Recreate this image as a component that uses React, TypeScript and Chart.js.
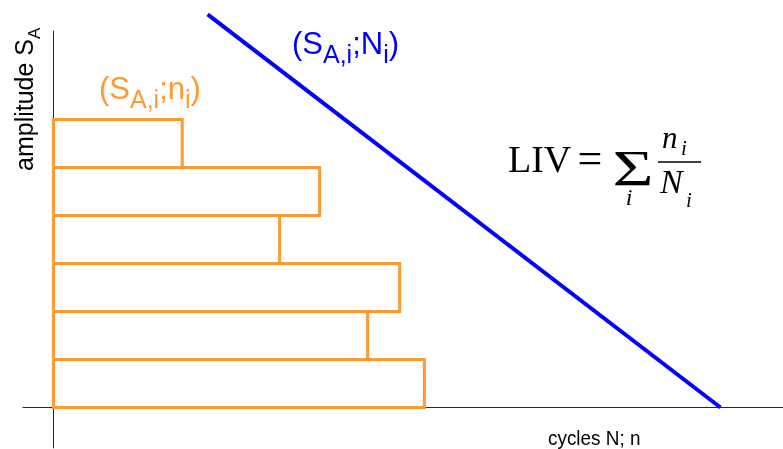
import { useEffect, useRef } from "react";
import { Chart, registerables } from "chart.js";

Chart.register(...registerables);

// ---- data ----
// block boundaries of the load spectrum (amplitude S_A), bottom -> top
const amplitudeLevels = [0, 1, 2, 3, 4, 5, 6];
// applied cycles n_i of each block, bottom -> top
const appliedCycles = [55.6, 47.1, 51.9, 33.9, 39.9, 19.3];
// S-N (Woehler) line end points: cycles N and amplitude S_A
const snCycles = [23.1, 100];
const snAmplitude = [8.19, 0];
// axis line extents
const xAxisExtent = [-4.65, 109.5];
const yAxisExtent = [-0.85, 7.85];
// view window
const X_RANGE = [-8.02, 109.37];
const Y_RANGE = [-0.865, 8.49];

const ORANGE = "#FF9933";
const BLUE = "#0000FF";
const AXIS = "#222222";
const SANS = '"Liberation Sans", Arial, sans-serif';
const SERIF = '"Liberation Serif", "Times New Roman", serif';

type Run = { t: string; sub?: boolean };

function drawRuns(
  ctx: CanvasRenderingContext2D,
  runs: Run[],
  x: number,
  y: number,
  size: number,
  subSize: number,
  subShift: number,
  family: string,
  style = ""
) {
  let cx = x;
  for (const r of runs) {
    const s = r.sub ? subSize : size;
    ctx.font = `${style} ${s}px ${family}`.trim();
    ctx.fillText(r.t, cx, r.sub ? y + subShift : y);
    cx += ctx.measureText(r.t).width;
  }
}

const labelsPlugin = {
  id: "labels",
  afterDatasetsDraw(chart: any) {
    const ctx: CanvasRenderingContext2D = chart.ctx;
    ctx.save();
    ctx.textBaseline = "alphabetic";
    ctx.textAlign = "left";

    // y-axis title (rotated)
    ctx.save();
    ctx.translate(33, 171);
    ctx.rotate(-Math.PI / 2);
    ctx.fillStyle = "#000";
    drawRuns(ctx, [{ t: "amplitude S" }, { t: "A", sub: true }], 0, 0, 25, 17, 7, SANS);
    ctx.restore();

    // x-axis title (slightly condensed)
    ctx.save();
    ctx.translate(548, 445);
    ctx.scale(0.9, 1);
    ctx.fillStyle = "#000";
    ctx.font = `21px ${SANS}`;
    ctx.fillText("cycles N; n", 0, 0);
    ctx.restore();

    // S-N line label
    ctx.fillStyle = BLUE;
    drawRuns(
      ctx,
      [{ t: "(S" }, { t: "A,i", sub: true }, { t: ";N" }, { t: "i", sub: true }, { t: ")" }],
      292,
      54,
      31,
      25,
      9,
      SANS
    );

    // spectrum label
    ctx.fillStyle = ORANGE;
    drawRuns(
      ctx,
      [{ t: "(S" }, { t: "A,i", sub: true }, { t: ";n" }, { t: "i", sub: true }, { t: ")" }],
      99,
      99,
      31,
      25,
      9,
      SANS
    );

    // formula LIV = sum_i n_i / N_i
    ctx.fillStyle = "#000";
    ctx.font = `38px ${SERIF}`;
    ctx.fillText("LIV", 508, 172);
    ctx.textAlign = "center";
    ctx.font = `44px ${SERIF}`;
    ctx.fillText("=", 590, 173);
    // summation sign
    ctx.save();
    ctx.translate(633, 185);
    ctx.scale(1.38, 1);
    ctx.font = `51px ${SERIF}`;
    ctx.fillText("\u03A3", 0, 0);
    ctx.restore();
    ctx.font = `italic 24px ${SERIF}`;
    ctx.fillText("i", 629, 205);
    ctx.textAlign = "left";
    ctx.font = `italic 31px ${SERIF}`;
    ctx.fillText("n", 662, 148);
    ctx.font = `italic 21px ${SERIF}`;
    ctx.fillText("i", 681, 155);
    ctx.font = `italic 34px ${SERIF}`;
    ctx.fillText("N", 660, 193);
    ctx.font = `italic 21px ${SERIF}`;
    ctx.fillText("i", 686, 207);
    ctx.strokeStyle = "#000";
    ctx.lineWidth = 1.5;
    ctx.beginPath();
    ctx.moveTo(658, 162);
    ctx.lineTo(701, 162);
    ctx.stroke();

    ctx.restore();
  },
};

export default function App() {
  const ref = useRef<HTMLCanvasElement | null>(null);

  useEffect(() => {
    if (!ref.current) return;

    const blockSets = appliedCycles.map((n, i) => {
      const lo = amplitudeLevels[i];
      const hi = amplitudeLevels[i + 1];
      return {
        type: "line" as const,
        data: [
          { x: 0, y: lo },
          { x: n, y: lo },
          { x: n, y: hi },
          { x: 0, y: hi },
          { x: 0, y: lo },
        ],
        borderColor: ORANGE,
        borderWidth: 3,
        borderJoinStyle: "miter" as const,
        borderCapStyle: "square" as const,
        pointRadius: 0,
        fill: false,
        tension: 0,
        order: 2,
      };
    });

    const chart = new Chart(ref.current, {
      type: "scatter",
      data: {
        datasets: [
          {
            type: "line",
            data: [
              { x: xAxisExtent[0], y: 0 },
              { x: xAxisExtent[1], y: 0 },
            ],
            borderColor: AXIS,
            borderWidth: 1,
            pointRadius: 0,
            order: 3,
          },
          {
            type: "line",
            data: [
              { x: 0, y: yAxisExtent[0] },
              { x: 0, y: yAxisExtent[1] },
            ],
            borderColor: AXIS,
            borderWidth: 1,
            pointRadius: 0,
            order: 3,
          },
          ...blockSets,
          {
            type: "line",
            data: snCycles.map((x, i) => ({ x, y: snAmplitude[i] })),
            borderColor: BLUE,
            borderWidth: 4,
            pointRadius: 0,
            order: 1,
          },
        ] as any,
      },
      options: {
        animation: false,
        responsive: false,
        devicePixelRatio: 1,
        layout: { padding: 0 },
        plugins: { legend: { display: false }, tooltip: { enabled: false } },
        scales: {
          x: { type: "linear", min: X_RANGE[0], max: X_RANGE[1], display: false },
          y: { type: "linear", min: Y_RANGE[0], max: Y_RANGE[1], display: false },
        },
        elements: { line: { tension: 0 } },
      },
      plugins: [labelsPlugin],
    });
    return () => chart.destroy();
  }, []);

  return (
    <div style={{ position: "absolute", left: 0, top: 0, width: 783, height: 449, background: "#fff" }}>
      <canvas ref={ref} width={783} height={449} style={{ display: "block" }} />
    </div>
  );
}
